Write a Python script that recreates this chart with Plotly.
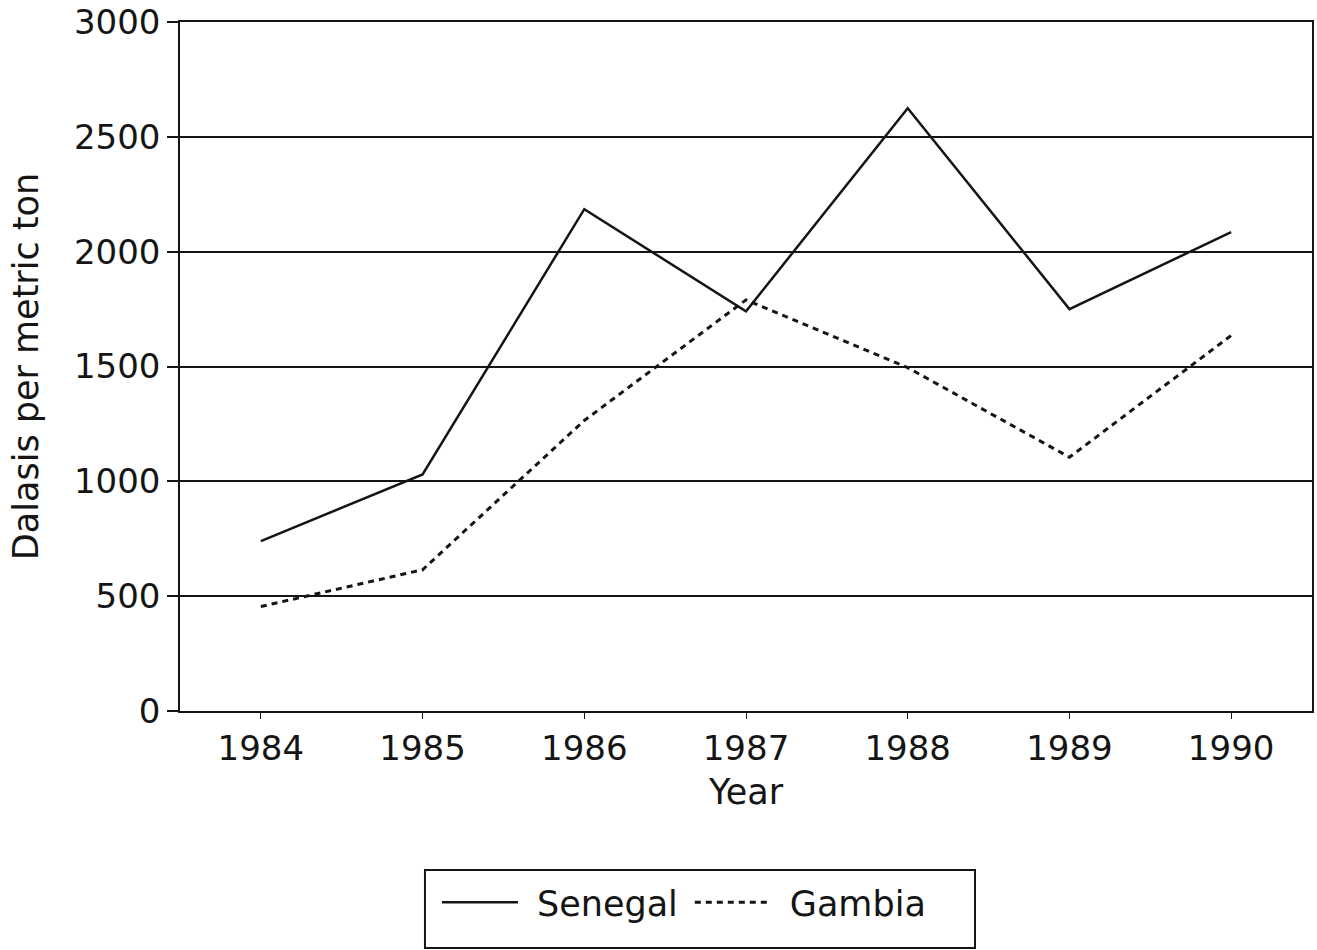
import plotly.graph_objects as go

years = [1984, 1985, 1986, 1987, 1988, 1989, 1990]
senegal = [740, 1030, 2185, 1740, 2625, 1750, 2085]
gambia = [455, 615, 1265, 1790, 1495, 1105, 1635]
y_ticks = [0, 500, 1000, 1500, 2000, 2500, 3000]

FONT = "DejaVu Sans"
INK = "#151515"
TS = "\u2009\u2009"  # thin spaces for legend spacing

fig = go.Figure()
fig.add_trace(go.Scatter(x=years, y=senegal, mode="lines", name=TS + "Senegal\u2009",
                         line=dict(color=INK, width=2.5)))
fig.add_trace(go.Scatter(x=years, y=gambia, mode="lines", name=TS + "Gambia",
                         line=dict(color=INK, width=3, dash="6px,5px")))

# legend frame (paper coords of the plot area)
fig.add_shape(type="rect", xref="paper", yref="paper",
              x0=0.2164, x1=0.7023, y0=-0.2308, y1=-0.344,
              line=dict(color=INK, width=2), fillcolor="rgba(0,0,0,0)")

fig.update_layout(
    width=1317, height=950,
    margin=dict(l=180, r=5, t=22, b=239),
    paper_bgcolor="white", plot_bgcolor="white",
    font=dict(family=FONT, size=34, color=INK),
    showlegend=True,
    legend=dict(orientation="h", x=0.2270, xanchor="left", y=-0.2351, yanchor="top",
                borderwidth=0, bgcolor="rgba(0,0,0,0)",
                font=dict(family=FONT, size=35, color=INK),
                itemwidth=76, tracegroupgap=0),
)
fig.update_xaxes(
    range=[1983.5, 1990.5], tickmode="array", tickvals=years,
    ticktext=[str(y) for y in years],
    showgrid=False, zeroline=False, automargin=False,
    showline=True, linecolor=INK, linewidth=2, mirror=True,
    ticks="outside", ticklen=6, tickwidth=1, tickcolor=INK,
    title=dict(text="Year", standoff=13, font=dict(family=FONT, size=35, color=INK)),
    tickfont=dict(family=FONT, size=34, color=INK),
)
fig.update_yaxes(
    range=[0, 3000], tickmode="array", tickvals=y_ticks,
    showgrid=True, gridcolor=INK, gridwidth=2, zeroline=False, automargin=False,
    showline=True, linecolor=INK, linewidth=1.5, mirror=True,
    ticks="outside", ticklen=11, tickwidth=2, tickcolor=INK,
    title=dict(text="Dalasis per metric ton", standoff=25,
               font=dict(family=FONT, size=35, color=INK)),
    tickfont=dict(family=FONT, size=34, color=INK),
)

fig.write_html("out.html", config={"displayModeBar": False},
               post_script="document.body.style.margin='0';document.body.style.overflow='hidden';")
